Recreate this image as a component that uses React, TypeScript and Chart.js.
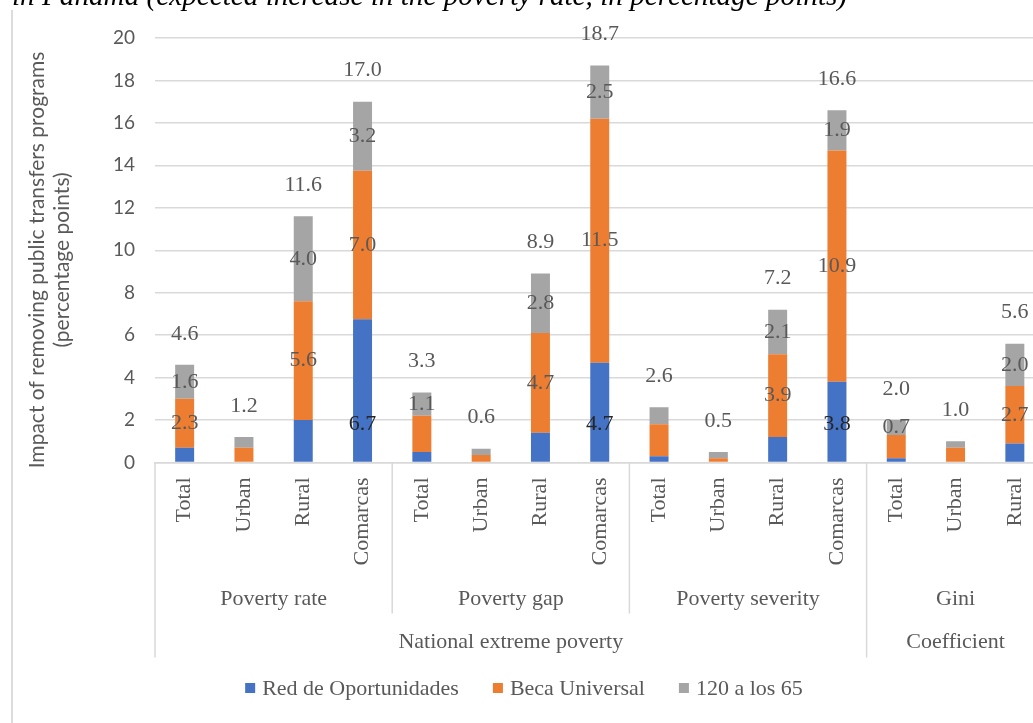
import React, { useEffect, useRef } from "react";
import { Chart, registerables } from "chart.js";

Chart.register(...registerables);

const categories = [
  "Total", "Urban", "Rural", "Comarcas",
  "Total", "Urban", "Rural", "Comarcas",
  "Total", "Urban", "Rural", "Comarcas",
  "Total", "Urban", "Rural",
];
const seriesNames = ["Red de Oportunidades", "Beca Universal", "120 a los 65"];
const redOportunidades = [0.7, 0.0, 2.0, 6.75, 0.5, 0.0, 1.4, 4.7, 0.3, 0.0, 1.2, 3.8, 0.2, 0.0, 0.9];
const becaUniversal = [2.3, 0.7, 5.6, 7.0, 1.7, 0.35, 4.7, 11.5, 1.5, 0.2, 3.9, 10.9, 1.1, 0.7, 2.7];
const cientoVeinte = [1.6, 0.5, 4.0, 3.25, 1.1, 0.3, 2.8, 2.5, 0.8, 0.3, 2.1, 1.9, 0.7, 0.3, 2.0];
const totalLabels = ["4.6", "1.2", "11.6", "17.0", "3.3", "0.6", "8.9", "18.7", "2.6", "0.5", "7.2", "16.6", "2.0", "1.0", "5.6"];
const redLabels = [null, null, null, "6.7", null, null, null, "4.7", null, null, null, "3.8", null, null, null];
const becaLabels = ["2.3", null, "5.6", "7.0", null, null, "4.7", "11.5", null, null, "3.9", "10.9", null, null, "2.7"];
const cientoLabels = ["1.6", null, "4.0", "3.2", "1.1", null, "2.8", "2.5", null, null, "2.1", "1.9", "0.7", null, "2.0"];
const innerGroups = ["Poverty rate", "Poverty gap", "Poverty severity", "Gini"];
const innerSizes = [4, 4, 4, 3];
const outerGroups = ["National extreme poverty", "Coefficient"];
const outerSizes = [12, 3];
const yTicks = [0, 2, 4, 6, 8, 10, 12, 14, 16, 18, 20];
const titleText = "in Panama (expected increase in the poverty rate, in percentage points)";
const yTitleLines = ["Impact of removing public transfers programs", "(percentage points)"];

const COLORS = ["#4472C4", "#ED7D31", "#A5A5A5"];
const TEXT = "#595959";
const GRID = "#D9D9D9";
const SERIF = "'Liberation Serif', 'DejaVu Serif', serif";
const SANS = "Lato, 'Open Sans', sans-serif";

const overlay = {
  id: "overlay",
  afterDatasetsDraw(chart: any) {
    const ctx = chart.ctx;
    const labelSets = [redLabels, becaLabels, cientoLabels];
    ctx.save();
    ctx.font = `22px ${SERIF}`;
    ctx.textAlign = "center";
    ctx.textBaseline = "middle";
    for (let d = 0; d < 3; d++) {
      const meta = chart.getDatasetMeta(d);
      meta.data.forEach((el: any, i: number) => {
        const txt = labelSets[d][i];
        if (!txt) return;
        let y = (el.y + el.base) / 2;
        if (d === 0) {
          y = el.base - 38;
          ctx.fillStyle = "#262626";
        } else {
          ctx.fillStyle = TEXT;
        }
        ctx.fillText(txt, el.x, y);
      });
    }
    const top = chart.getDatasetMeta(2);
    ctx.fillStyle = TEXT;
    top.data.forEach((el: any, i: number) => {
      ctx.fillText(totalLabels[i], el.x, el.y - 31);
    });
    ctx.restore();
  },
  afterDraw(chart: any) {
    const ctx = chart.ctx;
    const xs = chart.scales.x;
    const area = chart.chartArea;
    const step = xs.getPixelForValue(1) - xs.getPixelForValue(0);
    const boundary = (i: number) => xs.getPixelForValue(i) - step / 2;
    ctx.save();
    // frame line
    ctx.strokeStyle = "#D0D0D0";
    ctx.lineWidth = 1.5;
    ctx.beginPath();
    ctx.moveTo(12, 10);
    ctx.lineTo(12, chart.height);
    ctx.stroke();

    // separators
    ctx.strokeStyle = GRID;
    ctx.lineWidth = 1.5;
    let idx = 0;
    const outerStarts: number[] = [0];
    outerSizes.forEach((s) => { outerStarts.push(outerStarts[outerStarts.length - 1] + s); });
    innerSizes.forEach((s) => {
      const x = boundary(idx);
      const isOuter = outerStarts.includes(idx);
      ctx.beginPath();
      ctx.moveTo(x, area.bottom);
      ctx.lineTo(x, isOuter ? area.bottom + 195 : area.bottom + 151);
      ctx.stroke();
      idx += s;
    });
    // group labels
    ctx.fillStyle = TEXT;
    ctx.font = `22px ${SERIF}`;
    ctx.textAlign = "center";
    ctx.textBaseline = "middle";
    idx = 0;
    innerSizes.forEach((s, g) => {
      const cx = (boundary(idx) + boundary(idx + s)) / 2;
      ctx.fillText(innerGroups[g], cx, area.bottom + 137);
      idx += s;
    });
    idx = 0;
    outerSizes.forEach((s, g) => {
      const cx = (boundary(idx) + boundary(idx + s)) / 2;
      ctx.fillText(outerGroups[g], cx, area.bottom + 180);
      idx += s;
    });

    // legend
    const legendY = 688;
    const items = seriesNames.map((n) => ({ n, w: ctx.measureText(n).width }));
    const gapSq = 7, sq = 10, itemGap = 34;
    const totalW = items.reduce((a, it) => a + sq + gapSq + it.w, 0) + itemGap * (items.length - 1);
    let lx = 524 - totalW / 2;
    ctx.textAlign = "left";
    items.forEach((it, k) => {
      ctx.fillStyle = COLORS[k];
      ctx.fillRect(lx, legendY - sq / 2, sq, sq);
      lx += sq + gapSq;
      ctx.fillStyle = TEXT;
      ctx.fillText(it.n, lx, legendY + 1);
      lx += it.w + itemGap;
    });

    // y-axis title
    ctx.font = `21px ${SANS}`;
    ctx.fillStyle = TEXT;
    ctx.textAlign = "center";
    const cy = 260;
    [37, 62].forEach((x, k) => {
      ctx.save();
      ctx.translate(x, cy);
      ctx.rotate(-Math.PI / 2);
      ctx.fillText(yTitleLines[k], 0, 0);
      ctx.restore();
    });

    // chart title (cropped at top)
    ctx.font = `italic 26px ${SERIF}`;
    const w = ctx.measureText(titleText).width;
    const size = 26 * 835 / w;
    ctx.font = `italic ${size.toFixed(1)}px ${SERIF}`;
    ctx.fillStyle = "#000000";
    ctx.textAlign = "left";
    ctx.textBaseline = "alphabetic";
    ctx.fillText(titleText, 12, 5);
    ctx.restore();
  },
};

export default function App() {
  const ref = useRef<HTMLCanvasElement | null>(null);
  useEffect(() => {
    if (!ref.current) return;
    const chart = new Chart(ref.current, {
      type: "bar",
      data: {
        labels: categories,
        datasets: [
          { label: seriesNames[0], data: redOportunidades, backgroundColor: COLORS[0] },
          { label: seriesNames[1], data: becaUniversal, backgroundColor: COLORS[1] },
          { label: seriesNames[2], data: cientoVeinte, backgroundColor: COLORS[2] },
        ],
      },
      options: {
        responsive: false,
        animation: false,
        devicePixelRatio: 1,
        layout: { padding: { top: 38, right: 15.5, left: 0, bottom: 0 } },
        datasets: { bar: { barPercentage: 1, categoryPercentage: 0.32 } },
        plugins: { legend: { display: false }, tooltip: { enabled: false }, title: { display: false } },
        scales: {
          x: {
            stacked: true,
            grid: { display: false, drawTicks: false },
            border: { display: true, color: GRID, width: 1.5 },
            ticks: {
              autoSkip: false,
              minRotation: 90,
              maxRotation: 90,
              padding: 15,
              color: TEXT,
              font: { family: SERIF, size: 22 },
            },
            afterFit: (s: any) => { s.height = 260.5; },
          },
          y: {
            stacked: true,
            min: 0,
            max: 20,
            afterBuildTicks: (s: any) => { s.ticks = yTicks.map((v) => ({ value: v })); },
            grid: { color: GRID, lineWidth: 1.5, drawTicks: false },
            border: { display: false },
            ticks: { padding: 20, color: TEXT, font: { family: SANS, size: 19 } },
            afterFit: (s: any) => { s.width = 155; },
          },
        },
      },
      plugins: [overlay],
    });
    return () => chart.destroy();
  }, []);
  return (
    <div style={{ position: "fixed", left: 0, top: 0, width: 1033, height: 723, overflow: "hidden", background: "#fff" }}>
      <canvas ref={ref} width={1060} height={723} style={{ width: 1060, height: 723, display: "block" }} />
    </div>
  );
}
